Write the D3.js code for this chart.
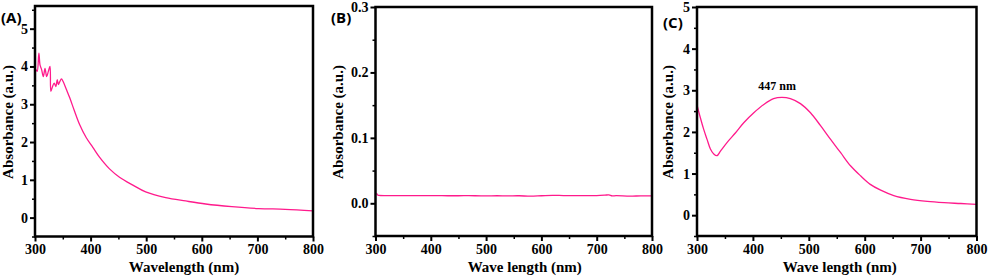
<!DOCTYPE html>
<html>
<head>
<meta charset="utf-8">
<script src="https://cdn.jsdelivr.net/npm/d3@7"></script>
<style>
  body { margin: 0; background: #fff; }
  svg { display: block; }
  .axis-title { font-family: "Liberation Serif", "Times New Roman", serif; font-weight: bold; font-size: 15px; fill: #000; }
  .panel-label { font-family: "Open Sans", "Liberation Sans", sans-serif; font-weight: bold; font-size: 15px; fill: #000; }
</style>
</head>
<body>
<svg id="chart" width="989" height="280"></svg>
<script>
// --- data ---
const xTicks = [300, 400, 500, 600, 700, 800];
const xMinorTicks = [350, 450, 550, 650, 750];

const wavelengthA = [300, 302, 304, 307, 309, 312, 315, 318, 321, 324, 327, 328.5, 331.5, 334.5, 337.5, 340, 342, 344.6, 347.6, 350.6,
  356.5, 362.5, 371, 380, 392, 404, 416, 434, 452, 476, 499, 535, 571, 607, 654, 702, 750, 800];
const absorbanceA = [3.85, 3.91, 3.87, 4.35, 4.04, 3.91, 3.73, 3.95, 3.73, 3.87, 4.0, 3.34, 3.47, 3.56, 3.47, 3.65, 3.52, 3.6, 3.67, 3.6,
  3.39, 3.17, 2.82, 2.47, 2.12, 1.86, 1.6, 1.29, 1.07, 0.86, 0.68, 0.53, 0.44, 0.36, 0.29, 0.24, 0.22, 0.18];
const yTicksA = [0, 1, 2, 3, 4, 5];
const yMinorA = [-0.5, 0.5, 1.5, 2.5, 3.5, 4.5, 5.5];

const wavelengthB = [302, 304, 306, 320, 340, 360, 380, 400, 420, 440, 460, 480, 500, 520, 540, 560, 580, 600, 620, 640,
  660, 680, 700, 715, 722, 728, 735, 760, 780, 800];
const absorbanceB = [0.0155, 0.0125, 0.012, 0.0117, 0.0116, 0.0117, 0.0116, 0.0117, 0.0116, 0.0115, 0.0116, 0.0115, 0.0114, 0.0115, 0.0114,
  0.0115, 0.0108, 0.0115, 0.0122, 0.0118, 0.0117, 0.0117, 0.0118, 0.0124, 0.0128, 0.0112, 0.0118, 0.0108, 0.0114, 0.0113];
const yTicksB = [0.0, 0.1, 0.2, 0.3];
const yMinorB = [-0.05, 0.05, 0.15, 0.25];

const wavelengthC = [300, 306, 312, 318, 324, 330, 335.8, 342, 354, 369, 383.6, 401.6, 419.5, 437, 452, 467, 485, 503, 521, 539,
  557, 575, 593, 610, 628.6, 652, 682, 712, 742, 772, 800];
const absorbanceC = [2.65, 2.34, 2.06, 1.82, 1.59, 1.47, 1.43, 1.54, 1.75, 1.98, 2.22, 2.46, 2.66, 2.8, 2.83, 2.8, 2.68, 2.46, 2.15, 1.82,
  1.5, 1.18, 0.94, 0.74, 0.6, 0.47, 0.38, 0.33, 0.3, 0.28, 0.26];
const yTicksC = [0, 1, 2, 3, 4, 5];
const yMinorC = [-0.5, 0.5, 1.5, 2.5, 3.5, 4.5];

const lineColor = "#ff1a8c";
const serif = "'Liberation Serif', 'Times New Roman', serif";
const svg = d3.select("#chart");

// d3 puts its own font attrs on the axis group, so restyle each label directly
function styleTicks(a) {
  a.selectAll(".tick text")
    .style("font-family", serif)
    .style("font-size", "14px")
    .style("font-weight", "bold")
    .style("fill", "#000");
  a.selectAll(".tick line").attr("stroke-width", 2);
}

function drawPanel(cfg) {
  const x = d3.scaleLinear().domain([300, 800]).range([cfg.left, cfg.right]);
  const y = d3.scaleLinear().domain(cfg.yDomain).range([cfg.bottom, cfg.top]);
  const g = svg.append("g");

  // minor ticks
  g.append("g")
    .attr("transform", `translate(0,${cfg.bottom})`)
    .call(d3.axisBottom(x).tickValues(xMinorTicks).tickSize(3).tickFormat(""))
    .call(a => a.select(".domain").remove())
    .selectAll("line").attr("stroke-width", 1.5);
  g.append("g")
    .attr("transform", `translate(${cfg.left},0)`)
    .call(d3.axisLeft(y).tickValues(cfg.yMinor.filter(v => y(v) >= cfg.top - 0.5 && y(v) <= cfg.bottom + 0.5)).tickSize(3).tickFormat(""))
    .call(a => a.select(".domain").remove())
    .selectAll("line").attr("stroke-width", 1.5);

  // major ticks
  const xa = g.append("g")
    .attr("transform", `translate(0,${cfg.bottom})`)
    .call(d3.axisBottom(x).tickValues(xTicks).tickSize(5).tickPadding(3));
  xa.select(".domain").remove();
  styleTicks(xa);
  const ya = g.append("g")
    .attr("transform", `translate(${cfg.left},0)`)
    .call(d3.axisLeft(y).tickValues(cfg.yTicks).tickSize(5).tickPadding(2).tickFormat(cfg.fmt));
  ya.select(".domain").remove();
  styleTicks(ya);

  // data line
  const line = d3.line()
    .x((d, i) => x(cfg.xs[i]))
    .y(d => y(d))
    .curve(d3.curveCatmullRom.alpha(0.5));
  g.append("path")
    .datum(cfg.ys)
    .attr("fill", "none")
    .attr("stroke", lineColor)
    .attr("stroke-width", 1.3)
    .attr("d", line);

  // frame
  g.append("rect")
    .attr("x", cfg.left).attr("y", cfg.top)
    .attr("width", cfg.right - cfg.left).attr("height", cfg.bottom - cfg.top)
    .attr("fill", "none").attr("stroke", "#000").attr("stroke-width", 2.5);

  // titles
  g.append("text").attr("class", "axis-title")
    .attr("x", (cfg.left + cfg.right) / 2 + cfg.xTitleShift).attr("y", 272)
    .attr("text-anchor", "middle").text(cfg.xTitle);
  g.append("text").attr("class", "axis-title")
    .attr("transform", `translate(${cfg.yTitleX},${cfg.yTitleY}) rotate(-90)`)
    .attr("text-anchor", "middle").text("Absorbance (a.u.)");
  g.append("text").attr("class", "panel-label")
    .attr("x", cfg.labelX).attr("y", cfg.labelY).text(cfg.label);
  return { g, x, y };
}

drawPanel({
  left: 35, right: 313, top: 6, bottom: 236.5, yDomain: [-0.5, 5.6],
  yTicks: yTicksA, yMinor: yMinorA, fmt: d3.format("d"),
  xs: wavelengthA, ys: absorbanceA,
  xTitle: "Wavelength (nm)", xTitleShift: 10, yTitleX: 13, yTitleY: 122,
  label: "(A)", labelX: 1, labelY: 23
});

drawPanel({
  left: 375.5, right: 652, top: 7, bottom: 236, yDomain: [-0.05, 0.3],
  yTicks: yTicksB, yMinor: yMinorB, fmt: d3.format(".1f"),
  xs: wavelengthB, ys: absorbanceB,
  xTitle: "Wave length (nm)", xTitleShift: 11, yTitleX: 343, yTitleY: 122,
  label: "(B)", labelX: 331, labelY: 23
});

const c = drawPanel({
  left: 697, right: 976.5, top: 7, bottom: 236, yDomain: [-0.5, 5],
  yTicks: yTicksC, yMinor: yMinorC, fmt: d3.format("d"),
  xs: wavelengthC, ys: absorbanceC,
  xTitle: "Wave length (nm)", xTitleShift: 3, yTitleX: 673, yTitleY: 122,
  label: "(C)", labelX: 663, labelY: 28
});

// peak annotation
c.g.append("text")
  .attr("x", c.x(447) - 2).attr("y", 90)
  .attr("text-anchor", "middle")
  .style("font-family", serif)
  .style("font-weight", "bold")
  .style("font-size", "12px")
  .text("447 nm");
</script>
</body>
</html>
